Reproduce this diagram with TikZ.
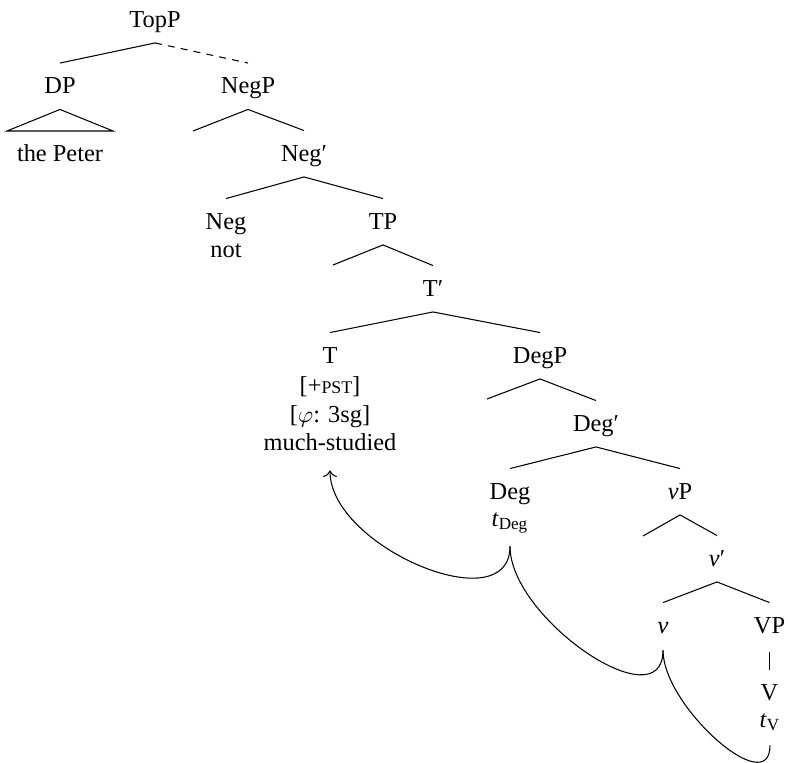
\documentclass[tikz,border=0pt]{standalone}
\usepackage{fontspec}
\setmainfont{Liberation Serif}
\usetikzlibrary{arrows.meta}
\begin{document}
\begin{tikzpicture}[x=0.015cm,y=-0.015cm,
  tn/.style={inner sep=0pt,anchor=base,text height=12.8pt,text depth=6.6pt,font=\fontsize{10.4}{12.5}\selectfont},
  edge/.style={line width=0.45pt},
  move/.style={line width=0.45pt,out=-90,in=-90}]
\useasboundingbox (0,0) rectangle (788,762);
% nodes
\node[tn] (TopP) at (155,27) {TopP};
\node[tn] (DP) at (60,93.5) {DP};
\node[tn] (NegP) at (248,93.5) {NegP};
\node[tn] (peter) at (60,161) {the Peter};
\node[tn] (Negbar) at (304,161) {Neg′};
\node[tn] (Neg) at (226,229) {Neg};
\node[tn] (not) at (226,257) {not};
\node[tn] (TP) at (383,229) {TP};
\node[tn] (Tbar) at (433,296) {T′};
\node[tn] (T) at (330,363) {T};
\node[tn] (pst) at (330,393) {[+{\fontsize{7.6}{9}\selectfont PST}]};
\node[tn] (phi) at (330,422) {[$\varphi$: 3sg]};
\node[tn] (much) at (330,450) {much-studied};
\node[tn] (DegP) at (540,363) {DegP};
\node[tn] (Degbar) at (596,431) {Deg′};
\node[tn] (Deg) at (510,499) {Deg};
\node[tn] (tdeg) at (510,526) {\textit{t}\textsubscript{Deg}};
\node[tn] (vP) at (680,499) {\textit{ν}P};
\node[tn] (vbar) at (717,566) {\textit{ν}′};
\node[tn] (v) at (663,633) {\textit{ν}};
\node[tn] (VP) at (769.5,633) {VP};
\node[tn] (V) at (769.5,700) {V};
\node[tn] (tV) at (770,727) {\textit{t}\textsubscript{V}};
\coordinate (triL) at (7,131);
\coordinate (triR) at (113,131);
% edges
\draw[edge] (TopP.south) -- (DP.north);
\draw[edge,dash pattern=on 3pt off 2.6pt] (TopP.south) -- (NegP.north);
\draw[edge] (DP.south) -- (triL) -- (triR) -- cycle;
\draw[edge] (NegP.south) -- (193,131);
\draw[edge] (NegP.south) -- (Negbar.north);
\draw[edge] (Negbar.south) -- (Neg.north);
\draw[edge] (Negbar.south) -- (TP.north);
\draw[edge] (TP.south) -- (333,265);
\draw[edge] (TP.south) -- (Tbar.north);
\draw[edge] (Tbar.south) -- (T.north);
\draw[edge] (Tbar.south) -- (DegP.north);
\draw[edge] (DegP.south) -- (487,399);
\draw[edge] (DegP.south) -- (Degbar.north);
\draw[edge] (Degbar.south) -- (Deg.north);
\draw[edge] (Degbar.south) -- (vP.north);
\draw[edge] (vP.south) -- (643,536);
\draw[edge] (vP.south) -- (vbar.north);
\draw[edge] (vbar.south) -- (v.north);
\draw[edge] (vbar.south) -- (VP.north);
\draw[edge] ([yshift=-1.5pt]VP.south) -- (V.north);
% movement
\draw[move,-{To[width=6pt,length=2.8pt]}] ([yshift=-1.9pt]tdeg.south) to ([yshift=-1.9pt]much.south);
\draw[move] ([yshift=-1.9pt]tdeg.south) to ([yshift=-0.6pt]v.south);
\draw[move] ([yshift=-0.6pt]v.south) to ([yshift=-1pt]tV.south);
\end{tikzpicture}
\end{document}
